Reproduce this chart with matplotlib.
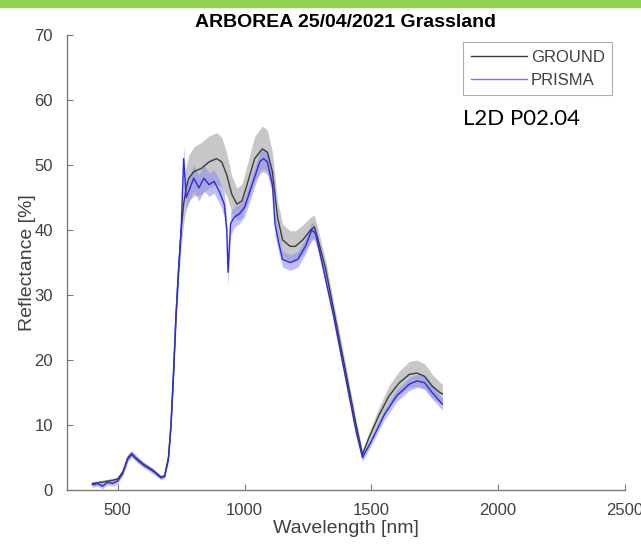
import matplotlib.pyplot as plt
import numpy as np

# ground field spectrum (mean and std), wavelength in nm, reflectance in %
wl_ground = [400, 420, 450, 480, 500, 520, 540, 555, 570, 600, 640, 670, 685, 700,
             710, 720, 730, 740, 750, 760, 770, 780, 800, 830, 860, 890, 910, 930,
             950, 970, 990, 1010, 1040, 1070, 1090, 1110, 1130, 1150, 1180, 1200,
             1230, 1260, 1275, 1290, 1320, 1350, 1400, 1440, 1465, 1490, 1530,
             1570, 1610, 1650, 1680, 1710, 1740, 1770, 1780]
ground_mean = [1.0, 1.1, 1.3, 1.5, 1.7, 2.8, 5.0, 5.6, 5.0, 4.0, 3.0, 2.0, 2.2, 5.0,
               10, 18, 27, 34, 40, 44, 46.5, 48, 49, 49.5, 50.5, 51.0, 50.5, 48.5,
               45.5, 44, 44.5, 47, 51, 52.5, 52, 49, 42, 38.5, 37.5, 37.5,
               38.5, 40, 40.5, 38.5, 34, 28, 18, 10, 5.5, 8, 11.5,
               14.5, 16.5, 17.8, 18, 17.5, 16, 15, 14.8]
ground_std = [0.3, 0.3, 0.3, 0.3, 0.3, 0.4, 0.5, 0.5, 0.5, 0.4, 0.3, 0.3, 0.3, 0.5,
              0.8, 1.2, 1.8, 2.2, 2.6, 3.0, 3.3, 3.5, 3.8, 4.0, 4.0, 4.0, 3.8, 3.3,
              2.8, 2.5, 2.6, 3.0, 3.4, 3.5, 3.4, 3.0, 2.6, 2.4, 2.4, 2.4,
              2.3, 2.0, 1.8, 1.6, 1.4, 1.2, 1.0, 0.8, 0.6, 0.8, 1.2,
              1.6, 1.8, 2.0, 2.0, 1.9, 1.8, 1.6, 1.5]

# PRISMA L2D spectrum (mean and std)
wl_prisma = [400, 420, 440, 460, 480, 500, 520, 540, 555, 570, 600, 640, 670, 685,
             700, 710, 720, 730, 740, 750, 760, 770, 780, 800, 820, 840, 860, 880,
             900, 920, 930, 935, 945, 960, 980, 1000, 1030, 1060, 1075, 1090, 1110,
             1120, 1135, 1150, 1180, 1210, 1240, 1265, 1280, 1300, 1350, 1400,
             1440, 1465, 1500, 1550, 1600, 1650, 1680, 1710, 1740, 1780]
prisma_mean = [0.8, 1.0, 0.6, 1.2, 1.0, 1.4, 2.6, 4.8, 5.5, 4.9, 3.9, 2.9, 1.9, 2.1,
               4.8, 10, 18, 27, 34, 40, 51, 45, 46, 48, 46.5, 48, 47, 47.5,
               46, 44, 40, 33.5, 41, 42, 42.5, 43.5, 47, 50.5, 51, 50.5, 47,
               41, 38, 35.5, 35, 35.5, 37.5, 40, 39.5, 36, 27, 17,
               9, 5.0, 7.5, 11.5, 14.5, 16.3, 16.8, 16.5, 15, 13.2]
prisma_std = [0.4, 0.4, 0.4, 0.4, 0.4, 0.4, 0.4, 0.4, 0.4, 0.4, 0.4, 0.4, 0.3, 0.3,
              0.4, 0.6, 0.8, 1.0, 1.2, 1.4, 2.0, 1.8, 1.8, 2.0, 2.0, 2.0, 1.8, 1.8,
              1.8, 1.8, 2.0, 2.2, 1.8, 1.6, 1.5, 1.5, 1.5, 1.5, 1.5, 1.5, 1.5,
              1.8, 1.5, 1.2, 1.2, 1.2, 1.2, 1.2, 1.2, 1.1, 1.0, 0.9,
              0.7, 0.6, 0.6, 0.8, 0.9, 1.0, 1.0, 1.0, 1.0, 0.9]

gm = np.array(ground_mean)
gs = np.array(ground_std)
pm = np.array(prisma_mean)
ps = np.array(prisma_std)

fig = plt.figure(figsize=(6.41, 5.48), dpi=100)
ax = fig.add_axes([0.1045, 0.1058, 0.8705, 0.830])

# ground band + mean
ax.fill_between(wl_ground, gm - gs, gm + gs, color='#bdbdbd', alpha=0.85, lw=0)
ax.plot(wl_ground, gm, color='#3c3c3c', lw=1.0, label='GROUND')

# prisma band + mean
ax.fill_between(wl_prisma, pm - ps, pm + ps, color='#8c8cf0', alpha=0.55, lw=0)
ax.plot(wl_prisma, pm, color='#2a2ae6', lw=1.0)
ax.plot([], [], color='#7777e6', lw=1.0, label='PRISMA')

ax.set_xlim(300, 2500)
ax.set_ylim(0, 70)
ax.set_xticks([500, 1000, 1500, 2000, 2500])
ax.set_yticks(range(0, 71, 10))

for s in ['top', 'right']:
    ax.spines[s].set_visible(False)
for s in ['left', 'bottom']:
    ax.spines[s].set_color('#7a7a7a')
    ax.spines[s].set_linewidth(1.0)
ax.tick_params(direction='in', length=4, color='#7a7a7a', labelcolor='#404040',
               labelsize=12)
ax.tick_params(axis='x', pad=9)
ax.tick_params(axis='y', pad=10)
for lab in ax.get_xticklabels() + ax.get_yticklabels():
    lab.set_family('Liberation Sans')

ax.set_xlabel('Wavelength [nm]', fontsize=14, family='Liberation Sans', color='#404040',
              labelpad=2)
ax.set_ylabel('Reflectance [%]', fontsize=14, family='Liberation Sans', color='#404040',
              labelpad=-1)
ax.set_title('ARBOREA 25/04/2021 Grassland', fontsize=14, fontweight='bold',
             family='Liberation Sans', pad=6)

leg = ax.legend(loc='upper right', bbox_to_anchor=(0.977, 0.985), fontsize=12,
                frameon=True, fancybox=False, handlelength=3.4, handletextpad=0.2,
                borderpad=0.45, labelspacing=0.5, borderaxespad=0)
leg.get_frame().set_edgecolor('#9a9a9a')
leg.get_frame().set_linewidth(0.8)
for t in leg.get_texts():
    t.set_color('#404040')
    t.set_family('Liberation Sans')

fig.text(463 / 641, 1 - 125 / 548, 'L2D P02.04', fontsize=16, family='Lato',
         color='black')

# green strip along the top edge
fig.patches.append(plt.Rectangle((0, 1 - 7 / 548), 1, 7 / 548, transform=fig.transFigure,
                                 color='#92d050', zorder=5))

fig.savefig('out.png', dpi=100)
